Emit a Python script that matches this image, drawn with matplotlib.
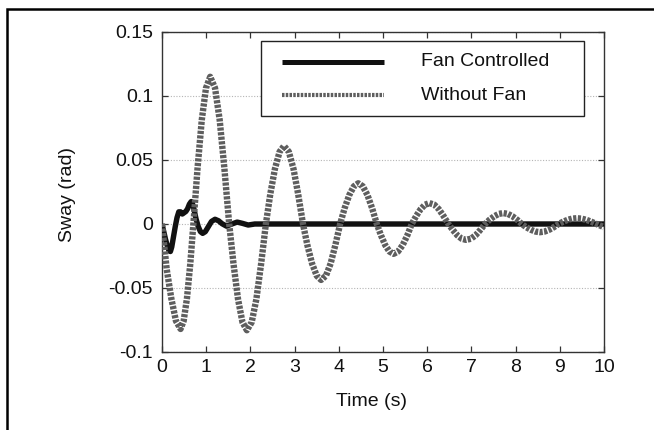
import matplotlib
matplotlib.use('Agg')
import matplotlib.pyplot as plt
from matplotlib.patches import Rectangle

plt.rcParams['font.family'] = ['Liberation Sans', 'DejaVu Sans']

# ---- data ----
fan_t = [0, 0.04, 0.08, 0.12, 0.16, 0.19, 0.22, 0.26, 0.30, 0.34, 0.38, 0.42,
         0.46, 0.50, 0.54, 0.58, 0.62, 0.66, 0.68, 0.72, 0.77, 0.82, 0.87,
         0.92, 0.98, 1.05, 1.12, 1.20, 1.28, 1.36, 1.46, 1.58, 1.70, 1.82,
         1.95, 2.1, 2.3, 10.0]
fan_v = [0, -0.006, -0.012, -0.017, -0.021, -0.0215, -0.018, -0.010, -0.002,
         0.005, 0.0095, 0.0095, 0.0078, 0.0088, 0.0098, 0.012, 0.0155, 0.0175,
         0.017, 0.012, 0.004, -0.002, -0.006, -0.0073, -0.006, -0.002, 0.002,
         0.0037, 0.0025, 0.0002, -0.0017, 0.0, 0.0015, 0.0005, -0.0008, 0.0,
         0.0, 0.0]

nofan_t = [0, 0.105, 0.21, 0.315, 0.42, 0.49, 0.565, 0.64, 0.71, 0.805, 0.90,
           0.995, 1.09, 1.20, 1.305, 1.41, 1.52, 1.62, 1.72, 1.82, 1.92, 2.03,
           2.135, 2.24, 2.35, 2.45, 2.555, 2.66, 2.76, 2.87, 2.975, 3.08, 3.19,
           3.29, 3.395, 3.50, 3.60, 3.71, 3.815, 3.92, 4.03, 4.13, 4.235, 4.34,
           4.44, 4.545, 4.65, 4.755, 4.86, 4.955, 5.05, 5.145, 5.24, 5.34,
           5.445, 5.55, 5.65, 5.75, 5.85, 5.95, 6.05, 6.16, 6.265, 6.37, 6.48,
           6.58, 6.68, 6.78, 6.88, 6.99, 7.095, 7.20, 7.31, 7.41, 7.515, 7.62,
           7.72, 7.825, 7.93, 8.035, 8.14, 8.24, 8.345, 8.45, 8.55, 8.655,
           8.76, 8.865, 8.97, 9.07, 9.175, 9.28, 9.38, 9.49, 9.605, 9.72, 9.83,
           10.0]
nofan_v = [0, -0.035, -0.058, -0.0757, -0.082, -0.0757, -0.058, -0.031, 0,
           0.044, 0.0813, 0.1062, 0.115, 0.1062, 0.0813, 0.044, 0,
           -0.0318, -0.0587, -0.0767, -0.083, -0.0767, -0.0587, -0.0318, 0,
           0.0234, 0.0431, 0.0564, 0.061, 0.0564, 0.0431, 0.0234, 0,
           -0.0167, -0.0309, -0.0404, -0.0437, -0.0404, -0.0309, -0.0167, 0,
           0.0122, 0.0225, 0.0294, 0.0318, 0.0294, 0.0225, 0.0122, 0,
           -0.0089, -0.0165, -0.0215, -0.0233, -0.0215, -0.0165, -0.0089, 0,
           0.0062, 0.0115, 0.0151, 0.0163, 0.0151, 0.0115, 0.0062, 0,
           -0.0047, -0.0088, -0.0115, -0.0124, -0.0115, -0.0088, -0.0047, 0,
           0.0033, 0.006, 0.0079, 0.0085, 0.0079, 0.006, 0.0033, 0,
           -0.0025, -0.0045, -0.0059, -0.0064, -0.0059, -0.0045, -0.0025, 0,
           0.0017, 0.0032, 0.0042, 0.0045, 0.0042, 0.0032, 0.0017, 0,
           -0.0025]

legend_labels = ['Fan Controlled', 'Without Fan']
x_ticks = [0, 1, 2, 3, 4, 5, 6, 7, 8, 9, 10]
x_tick_labels = ['0', '1', '2', '3', '4', '5', '6', '7', '8', '9', '10']
y_ticks = [-0.1, -0.05, 0, 0.05, 0.1, 0.15]
y_tick_labels = ['-0.1', '-0.05', '0', '0.05', '0.1', '0.15']
x_label = 'Time (s)'
y_label = 'Sway (rad)'

# ---- figure ----
W, H = 654, 430
fig = plt.figure(figsize=(W / 100, H / 100), dpi=100)
ax = fig.add_axes([162 / W, 1 - 352 / H, 442 / W, 320 / H])

BLACK = '#111111'
GRAY = '#5e5e5e'

ax.plot(fan_t, fan_v, color=BLACK, lw=3.9, solid_capstyle='butt',
        solid_joinstyle='round', zorder=3)
ax.plot(nofan_t, nofan_v, color=GRAY, lw=4.6, linestyle=(0, (0.5, 0.22)),
        dash_capstyle='butt', dash_joinstyle='round', zorder=4)

ax.set_xlim(0, 10)
ax.set_ylim(-0.1, 0.15)
ax.set_xticks(x_ticks)
ax.set_xticklabels(x_tick_labels)
ax.set_yticks(y_ticks)
ax.set_yticklabels(y_tick_labels)

ax.tick_params(direction='in', top=True, right=True, length=4, width=0.9,
               color='#333333', labelsize=14, labelcolor='#111111')
ax.tick_params(axis='x', pad=5)
ax.tick_params(axis='y', pad=6.5)
for s in ax.spines.values():
    s.set_color('#333333')
    s.set_linewidth(1.0)

ax.yaxis.grid(True, linestyle=(0, (1, 1.5)), color='#b5b5b5', lw=0.8)
ax.set_axisbelow(True)

# legend (drawn in axes coordinates)
def axx(px):
    return (px - 162) / 442


def axy(py):
    return (352 - py) / 320


ax.add_patch(Rectangle((axx(261), axy(116)), axx(584) - axx(261),
                       axy(41) - axy(116), transform=ax.transAxes,
                       facecolor='white', edgecolor='#222222', lw=1.0,
                       zorder=10))
ax.plot([axx(282), axx(384)], [axy(62), axy(62)], transform=ax.transAxes,
        color=BLACK, lw=3.6, solid_capstyle='butt', zorder=11, clip_on=False)
ax.plot([axx(282), axx(384)], [axy(95), axy(95)], transform=ax.transAxes,
        color=GRAY, lw=3.0, linestyle=(0, (0.6, 0.3)), dash_capstyle='butt',
        zorder=11, clip_on=False)
ax.text(axx(421), axy(62), legend_labels[0], transform=ax.transAxes,
        fontsize=14, va='center', ha='left', color='#111111', zorder=12)
ax.text(axx(421), axy(95), legend_labels[1], transform=ax.transAxes,
        fontsize=14, va='center', ha='left', color='#111111', zorder=12)

fig.text(372 / W, 1 - 401 / H, x_label, fontsize=14, ha='center',
         va='center', color='#111111')
fig.text(68 / W, 1 - 195 / H, y_label, fontsize=14, ha='center',
         va='center', rotation=90, color='#111111')

# outer frame (top and left edges visible)
fig.add_artist(Rectangle((7 / W, -1.0), 2.0, 1.0 + (1 - 9 / H),
                         transform=fig.transFigure, fill=False,
                         edgecolor='black', lw=1.8))

fig.savefig('out.png', dpi=100)
